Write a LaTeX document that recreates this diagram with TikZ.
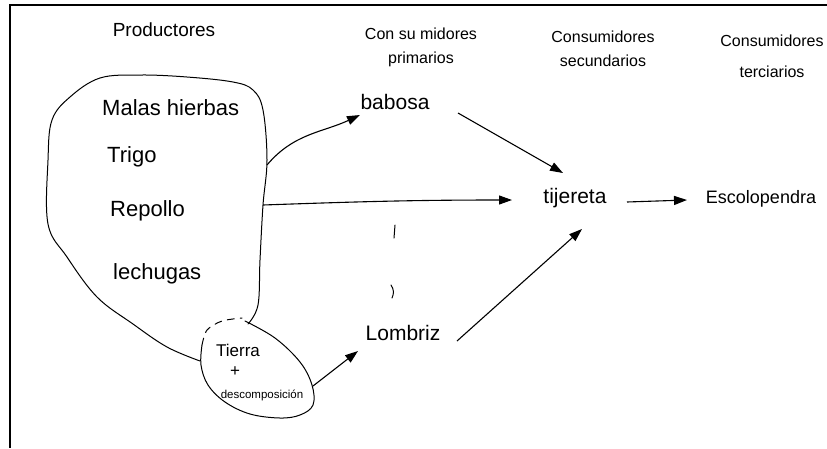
\documentclass[tikz,border=0pt]{standalone}
\usepackage{fontspec}
\setmainfont{Liberation Sans}
\usetikzlibrary{arrows.meta,calc}
\tikzset{
  txtHead/.style={inner sep=0pt,align=center,font=\fontsize{16}{24}\selectfont},
  txtItem/.style={inner sep=0pt,anchor=west,font=\fontsize{22}{26}\selectfont},
  txtAnimal/.style={inner sep=0pt,font=\fontsize{21}{25}\selectfont},
  txtSoil/.style={inner sep=0pt,font=\fontsize{17}{20}\selectfont},
  penLine/.style={line width=1pt,line cap=round,line join=round},
  flowArrow/.style={line width=1.1pt,-{Triangle[length=13pt,width=9pt]}},
}

\begin{document}
\begin{tikzpicture}[x=1pt,y=-1pt]
\useasboundingbox (0,0) rectangle (827,448);
\draw[line width=2pt] (827,5) -- (10,5) -- (10,448);

% column headings
\node[txtHead,font=\fontsize{19}{22}\selectfont] (prodHead) at (164,30) {Productores};
\node[txtHead] (primHead) at (421,47) {Con su midores\\primarios};
\node[txtHead] (secHead) at (603,49) {Consumidores\\secundarios};
\node[txtHead,font=\fontsize{16}{31}\selectfont] (terHead) at (772,56) {Consumidores\\terciarios};

% producers
\node[txtItem] (malas) at (102,108) {Malas hierbas};
\node[txtItem] (trigo) at (107,157) {Trigo};
\node[txtItem] (repollo) at (110,211) {Repollo};
\node[txtItem] (lechugas) at (113,274) {lechugas};

\draw[penLine] plot[smooth,tension=0.6] coordinates {(248,324) (258,305) (260,260)
  (263,205) (267,160) (263,110) (253,90) (233,82) (187,77) (140,75) (100,78) (70,97)
  (52,120) (48,160) (48,224) (67,257) (97,297) (133,324) (167,347) (200,361)};

% soil
\draw[penLine] plot[smooth,tension=0.6] coordinates {(245,321) (275,338) (300,362)
  (312,385) (313,405) (300,415) (280,418) (250,414) (225,402) (208,385) (201,365) (202,345)};
\draw[penLine,dash pattern=on 7pt off 6pt] plot[smooth] coordinates {(202,345) (207,330) (222,321) (242,318)};
\node[txtSoil] (tierra) at (238,350) {Tierra};
\node[txtSoil] (plus) at (235,372) {+};
\node[inner sep=0pt,font=\fontsize{11.5}{14}\selectfont] (desc) at (262,395) {descomposición};

\coordinate (prodTop) at (267,165);
\coordinate (prodMid) at (263,205);
\coordinate (soilR) at (313,386);

% consumers
\node[txtAnimal] (babosa) at (395,102) {babosa};
\node[txtAnimal] (lombriz) at (403,333) {Lombriz};
\node[txtAnimal] (tijereta) at (575,198) {tijereta};
\node[txtAnimal,font=\fontsize{18}{22}\selectfont] (escolo) at (761,199) {Escolopendra};

\draw[penLine] (395,225) -- (394,238);
\draw[penLine] (391,285) to[bend left=30] (392,298);

\draw[flowArrow] (prodTop) to[out=50,in=205] ([shift={(-35,13)}]babosa.center);
\draw[flowArrow] (prodMid) to[out=2,in=180] ([shift={(-63,2)}]tijereta.center);
\draw[flowArrow] ([shift={(63,11)}]babosa.center) -- ([shift={(-12,-25)}]tijereta.center);
\draw[flowArrow] (soilR) -- ([shift={(-45,18)}]lombriz.center);
\draw[flowArrow] ([shift={(54,8)}]lombriz.center) -- ([shift={(7,31)}]tijereta.center);
\draw[flowArrow] ([shift={(52,4)}]tijereta.center) -- ([shift={(-74,1)}]escolo.center);

\end{tikzpicture}
\end{document}
